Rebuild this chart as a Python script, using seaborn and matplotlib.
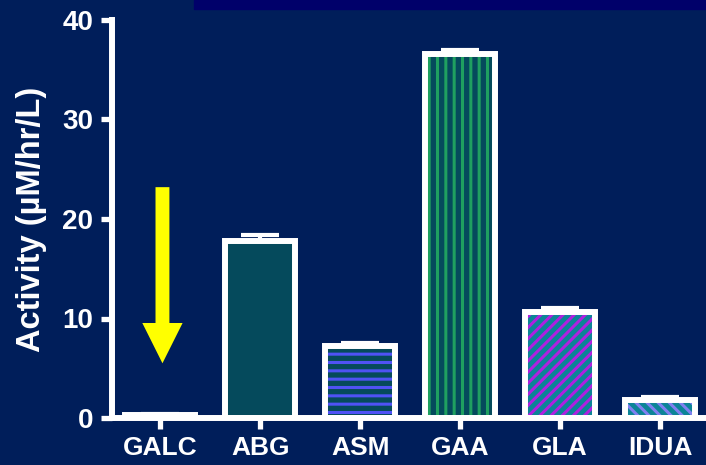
import matplotlib
matplotlib.use("Agg")
import matplotlib.pyplot as plt
import seaborn as sns
import numpy as np
from matplotlib.patches import Rectangle

# Enzyme activities
enzymes = ["GALC", "ABG", "ASM", "GAA", "GLA", "IDUA"]
activity = [0.3, 17.8, 7.2, 36.6, 10.7, 1.8]
error = [0.1, 0.6, 0.3, 0.4, 0.4, 0.3]
y_ticks = [0, 10, 20, 30, 40]

bg = "#001e5a"
fills = ["#001e5a", "#054a5c", "#054a5c", "#054a5c", "#0c8497", "#0c8497"]
hatch_colors = ["#001e5a", "#054a5c", "#4f52f5", "#1fa060", "#b020e0", "#8080f0"]
hatches = ["", "", "--", "||", "///", "\\\\\\"]

sns.set_style("ticks")
plt.rcParams["font.family"] = ["Liberation Sans", "DejaVu Sans"]
plt.rcParams["font.weight"] = "bold"
plt.rcParams["hatch.linewidth"] = 2.2

fig = plt.figure(figsize=(7.06, 4.65), dpi=100, facecolor=bg)
ax = fig.add_axes([111.5 / 706, 47 / 465, 1 - 111.5 / 706, 398 / 465])
ax.set_facecolor(bg)

# dark band along the top edge
fig.patches.append(Rectangle((194 / 706, 456 / 465), 1, 9 / 465,
                             transform=fig.transFigure, color="#00006a", zorder=0))

# filled, hatched bars
sns.barplot(x=enzymes, y=activity, ax=ax, width=0.7, errorbar=None,
            palette=fills, hue=enzymes, legend=False, linewidth=0, saturation=1)
for patch, h, hc in zip(ax.patches, hatches, hatch_colors):
    patch.set_hatch(h)
    patch.set_edgecolor(hc)
    patch.set_linewidth(0)

# white outlines on top
sns.barplot(x=enzymes, y=activity, ax=ax, width=0.7, errorbar=None,
            fill=False, edgecolor="white", linewidth=4.3)

ax.errorbar(np.arange(len(enzymes)), activity,
            yerr=[np.zeros(len(error)), error], fmt="none",
            ecolor="white", elinewidth=3, capsize=13.5, capthick=3, zorder=1)

# yellow arrow above GALC
ax.annotate("", xy=(0.02, 5.5), xytext=(0.02, 23.2),
            arrowprops=dict(facecolor="#ffff00", edgecolor="none",
                            width=10, headwidth=29, headlength=29, shrink=0))

ax.set_xlim(-0.49, 5.46)
ax.set_ylim(0, 40)
ax.set_yticks(y_ticks)
ax.set_ylabel("Activity (µM/hr/L)", color="white", fontsize=23.5,
              fontweight="bold", labelpad=11)
ax.set_xlabel("")

for side in ["top", "right"]:
    ax.spines[side].set_visible(False)
for side in ["left", "bottom"]:
    ax.spines[side].set_color("white")
    ax.spines[side].set_linewidth(4.3)

ax.tick_params(axis="both", colors="white", width=3.8, length=8,
               labelsize=19, pad=5)
ax.tick_params(axis="y", labelsize=20)
for lab in ax.get_xticklabels() + ax.get_yticklabels():
    lab.set_fontweight("bold")

fig.savefig("out.png", dpi=100, facecolor=bg)
